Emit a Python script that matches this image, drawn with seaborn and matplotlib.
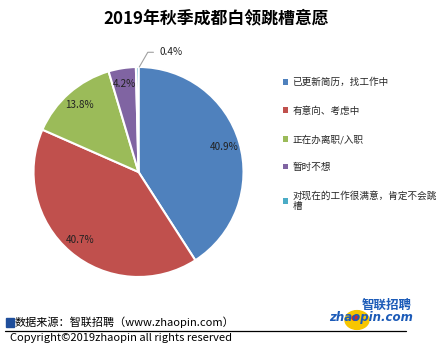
import matplotlib
matplotlib.use("Agg")
import matplotlib.pyplot as plt
import seaborn as sns
import numpy as np
from matplotlib.patches import Rectangle, Circle

sns.set_style("white")
plt.rcParams['font.family'] = ['Noto Sans CJK SC', 'DejaVu Sans']

title = "2019年秋季成都白领跳槽意愿"
categories = ["已更新简历，找工作中", "有意向、考虑中", "正在办离职/入职", "暂时不想",
              "对现在的工作很满意，肯定不会跳\n槽"]
values = [40.9, 40.7, 13.8, 4.2, 0.4]
colors = ["#4F81BD", "#C0504D", "#9BBB59", "#8064A2", "#4BACC6"]
source = "数据来源：智联招聘（www.zhaopin.com）"
copyright_text = "Copyright©2019zhaopin all rights reserved"

fig = plt.figure(figsize=(4.4, 3.44), dpi=100)
ax = fig.add_axes([0.0165, 0.1185, 0.5966, 0.7631])

wedges, texts, autotexts = ax.pie(
    values, colors=colors, startangle=90, counterclock=False,
    autopct=lambda p: f"{p:.1f}%", pctdistance=0.85,
    wedgeprops=dict(edgecolor="white", linewidth=1.5),
    textprops=dict(fontsize=7.2, color="#222222"))
ax.set_xlim(-1.25, 1.25)
ax.set_ylim(-1.25, 1.25)
ax.set_aspect("equal")
ax.axis("off")

# small slice label outside
autotexts[-1].set_visible(False)
w = wedges[-1]
ang = np.deg2rad((w.theta1 + w.theta2) / 2)
x0, y0 = np.cos(ang), np.sin(ang)
ax.annotate(f"{values[-1]:.1f}%", xy=(x0 + 0.02, y0), xytext=(0.2, 1.14),
            fontsize=7.2, color="#222222", va="center", ha="left",
            arrowprops=dict(arrowstyle="-", color="#a0a0a0", lw=0.8,
                            connectionstyle="angle,angleA=0,angleB=60,rad=0",
                            shrinkA=2, shrinkB=0))

leg = fig.legend(wedges, categories, loc="upper left",
                 bbox_to_anchor=(279 / 440, 1 - 74 / 344),
                 frameon=False, fontsize=6.9, handlelength=0.55, handleheight=0.55,
                 handletextpad=0.45, labelspacing=1.95, borderaxespad=0)
for h in leg.legend_handles:
    h.set_edgecolor("none")

fig.text(216 / 440, 1 - 18 / 344, title, ha="center", va="center",
         fontsize=12.2, fontweight="bold", color="black")

# footer
fig.add_artist(Rectangle((6 / 440, 1 - 327 / 344), 8 / 440, 9 / 344,
                         transform=fig.transFigure, color="#1F4E9B"))
fig.text(15 / 440, 1 - 322 / 344, source, ha="left", va="center",
         fontsize=8.0, color="black")
fig.add_artist(plt.Line2D([5 / 440, 406 / 440], [1 - 331 / 344, 1 - 331 / 344],
                          transform=fig.transFigure, color="black", lw=0.9))
fig.text(10 / 440, 1 - 338 / 344, copyright_text, ha="left", va="center",
         fontsize=8.0, color="black")

# logo
fig.add_artist(Circle((357 / 440, 1 - 320 / 344), 12 / 440, transform=fig.transFigure,
                      color="#F7C600", zorder=1))
fig.add_artist(Circle((355 / 440, 1 - 318 / 344), 3 / 440, transform=fig.transFigure,
                      color="#D8232A", zorder=2))
fig.text(387 / 440, 1 - 305 / 344, "智联招聘", ha="center", va="center",
         fontsize=9, fontweight="bold", color="#1C5BB8", style="italic", zorder=3)
fig.text(371 / 440, 1 - 317 / 344, "zhaopin.com", ha="center", va="center",
         fontsize=8.5, fontweight="bold", color="#1C5BB8", style="italic",
         family="DejaVu Sans", zorder=3)

fig.savefig("out.png", dpi=100)
